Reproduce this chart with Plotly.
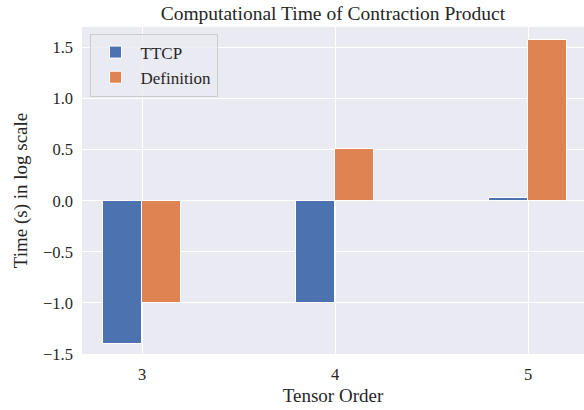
import plotly.graph_objects as go

orders = [3, 4, 5]
tick_labels = ["3", "4", "5"]
ttcp = [-1.40, -1.00, 0.03]
definition = [-1.00, 0.51, 1.576]

FONT = "Liberation Serif"

fig = go.Figure()
fig.add_trace(go.Bar(x=orders, y=ttcp, name="TTCP", offset=-0.2, width=0.2,
                     marker=dict(color="#4C72B0", line=dict(color="white", width=1))))
fig.add_trace(go.Bar(x=orders, y=definition, name="Definition", offset=0.0, width=0.2,
                     marker=dict(color="#DD8452", line=dict(color="white", width=1))))

fig.update_layout(
    width=584, height=410,
    margin=dict(l=82, r=0, t=27, b=56, autoexpand=False),
    paper_bgcolor="white", plot_bgcolor="#EAEAF2",
    font=dict(family=FONT, size=16.5, color="#262626"),
    title=dict(text="Computational Time of Contraction Product", x=0.57, xanchor="center",
               yref="container", y=0.968, yanchor="middle",
               font=dict(size=19.5, color="#262626")),
    showlegend=True,
    legend=dict(x=0.015, y=0.98, xanchor="left", yanchor="top",
                bgcolor="rgba(234,234,242,0.8)", bordercolor="#CCCCCC", borderwidth=1,
                font=dict(size=17), itemwidth=40, tracegroupgap=0),
    bargap=0,
)
fig.update_xaxes(range=[2.689, 5.29], tickvals=orders, ticktext=tick_labels,
                 showgrid=True, gridcolor="white", gridwidth=1.2, zeroline=False,
                 ticks="", ticklabelstandoff=8, automargin=False,
                 title=dict(text="Tensor Order", standoff=6, font=dict(size=19)))
fig.update_yaxes(range=[-1.5, 1.70], tickvals=[-1.5, -1.0, -0.5, 0.0, 0.5, 1.0, 1.5],
                 tickformat=".1f", showgrid=True, gridcolor="white", gridwidth=1.2,
                 zeroline=False, ticks="", ticklabelstandoff=8, automargin=False,
                 title=dict(text="Time (s) in log scale", standoff=10, font=dict(size=19)))

fig.write_html("out.html", config={"displayModeBar": False},
               post_script="document.body.style.margin='0';document.body.style.padding='0';")
